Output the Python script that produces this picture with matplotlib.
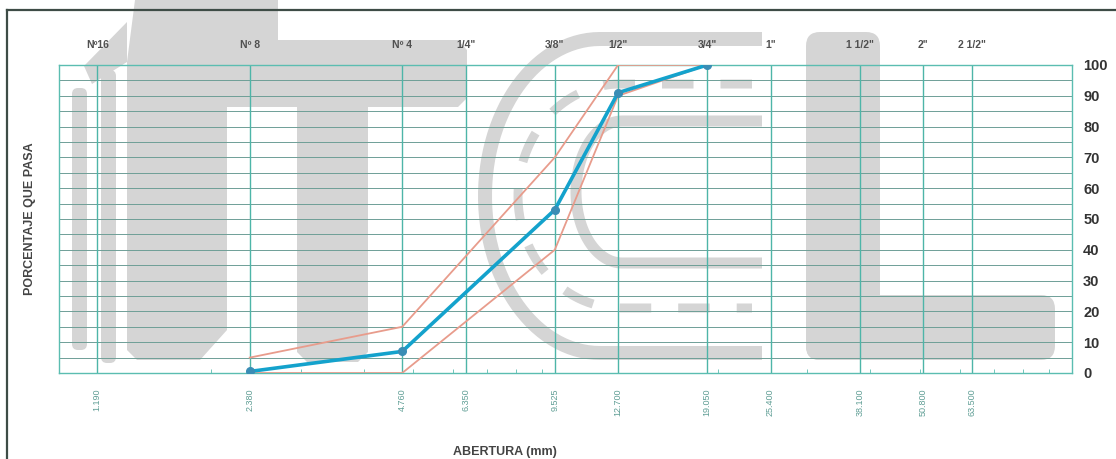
import numpy as np
import matplotlib
matplotlib.use("Agg")
import matplotlib.pyplot as plt
from matplotlib.patches import Polygon, FancyBboxPatch
from matplotlib.lines import Line2D
from matplotlib.ticker import LogLocator, NullFormatter, FixedLocator

plt.rcParams['font.family'] = ['Liberation Sans', 'DejaVu Sans']

# sieve openings (mm) and their names
sieve_mm = [1.190, 2.380, 4.760, 6.350, 9.525, 12.700, 19.050, 25.400, 38.100, 50.800, 63.500]
sieve_labels = ['1.190', '2.380', '4.760', '6.350', '9.525', '12.700', '19.050', '25.400', '38.100', '50.800', '63.500']
sieve_names = ['Nº16', 'Nº 8', 'Nº 4', '1/4"', '3/8"', '1/2"', '3/4"', '1"', '1 1/2"', '2"', '2 1/2"']

# grading curve
sample_mm = [2.380, 4.760, 9.525, 12.700, 19.050]
sample_pass = [0.5, 7, 53, 91, 100]
upper_pass = [5, 15, 70, 100, 100]
lower_pass = [0, 0, 40, 90, 100]

y_ticks = [0, 10, 20, 30, 40, 50, 60, 70, 80, 90, 100]
y_grid = np.arange(0, 101, 5)

W, H = 1116, 459
fig = plt.figure(figsize=(W / 100, H / 100), dpi=100)

# background: scanned frame + gray logo watermark, in pixel coords
bg = fig.add_axes([0, 0, 1, 1], zorder=0)
bg.set_xlim(0, W)
bg.set_ylim(H, 0)
bg.axis('off')
wm = '#d5d5d5'


def px(w):
    return w * 72 / 100


bg.add_patch(FancyBboxPatch((72, 88), 15, 262, boxstyle='round,pad=0,rounding_size=6', fc=wm, ec='none'))
bg.add_patch(FancyBboxPatch((101, 70), 15, 293, boxstyle='round,pad=0,rounding_size=6', fc=wm, ec='none'))
bg.add_patch(Polygon([(84, 66), (127, 22), (127, 62), (92, 84)], fc=wm, ec='none'))
bg.add_patch(Polygon([(127, 62), (135, 0), (278, 0), (278, 40), (458, 40), (467, 50), (467, 98),
                      (458, 107), (368, 107), (368, 352), (358, 362), (307, 362), (297, 352),
                      (297, 107), (227, 107), (227, 330), (200, 360), (137, 360), (127, 350)],
                     fc=wm, ec='none'))


def c_shape(cx, cy, rx, ry, xend, lw, **kw):
    t = np.linspace(np.pi / 2, 3 * np.pi / 2, 60)
    xs = np.concatenate([[xend], cx + rx * np.cos(t), [xend]])
    ys = np.concatenate([[cy - ry], cy - ry * np.sin(t), [cy + ry]])
    bg.plot(xs, ys, color=wm, lw=px(lw), solid_capstyle='butt', **kw)


c_shape(600, 196, 115, 157, 762, 14)
c_shape(622, 192, 46, 71, 762, 11)
c_shape(620, 196, 102, 112, 752, 9, dashes=(3.5, 3))

bg.add_patch(FancyBboxPatch((806, 32), 74, 328, boxstyle='round,pad=0,rounding_size=14', fc=wm, ec='none'))
bg.add_patch(FancyBboxPatch((806, 295), 249, 65, boxstyle='round,pad=0,rounding_size=14', fc=wm, ec='none'))

bg.add_line(Line2D([7, 7], [10, H], color='#3e4c46', lw=1.6))
bg.add_line(Line2D([7, W], [10, 10], color='#3e4c46', lw=1.6))

# main chart
ax = fig.add_axes([59 / W, 1 - 373 / H, (1072 - 59) / W, (373 - 65) / H], zorder=1)
ax.set_facecolor('none')
ax.set_xscale('log')
ax.set_xlim(1, 100)
ax.set_ylim(0, 100)

for yv in y_grid:
    ax.axhline(yv, color='#6e9f97', lw=0.7, zorder=1)
for xv in sieve_mm:
    ax.axvline(xv, color='#4db5a8', lw=1.0, zorder=1)

for sp in ax.spines.values():
    sp.set_color('#5bbdb1')
    sp.set_linewidth(1.0)

ax.plot(sample_mm, upper_pass, color='#e89c8c', lw=1.3, zorder=3)
ax.plot(sample_mm, lower_pass, color='#e89c8c', lw=1.3, zorder=3)
ax.plot(sample_mm, sample_pass, color='#14a2cc', lw=2.6, zorder=4,
        marker='o', markersize=5.5, markerfacecolor='#3a8db5', markeredgecolor='#3a8db5')

# bottom: sieve openings
ax.xaxis.set_major_locator(FixedLocator(sieve_mm))
ax.set_xticklabels(sieve_labels, rotation=90, fontsize=6.5, color='#5f9e95')
ax.xaxis.set_minor_locator(LogLocator(base=10, subs=np.arange(2, 10)))
ax.xaxis.set_minor_formatter(NullFormatter())
ax.tick_params(axis='x', which='major', length=0, pad=11)
ax.tick_params(axis='x', which='minor', direction='in', length=3, color='#5bbdb1')

# top: sieve names
top = ax.secondary_xaxis('top')
top.set_xticks(sieve_mm)
top.set_xticklabels(sieve_names, fontsize=7.5, fontweight='bold', color='#505050',
                    family=['Liberation Sans Narrow', 'Liberation Sans'])
top.tick_params(length=0, pad=11)
top.xaxis.set_minor_locator(FixedLocator([]))
top.spines['top'].set_visible(False)

# right: percent
ax.yaxis.tick_right()
ax.set_yticks(y_ticks)
ax.set_yticklabels([str(v) for v in y_ticks], fontsize=10.5, fontweight='bold', color='#333333')
ax.tick_params(axis='y', length=0, pad=8)

fig.text(30 / W, 1 - 219 / H, 'PORCENTAJE QUE PASA', rotation=90, ha='center', va='center',
         fontsize=9, fontweight='bold', color='#444444')
fig.text(505 / W, 1 - 452 / H, 'ABERTURA (mm)', ha='center', va='center',
         fontsize=9, fontweight='bold', color='#444444')

fig.savefig('out.png', dpi=100)
